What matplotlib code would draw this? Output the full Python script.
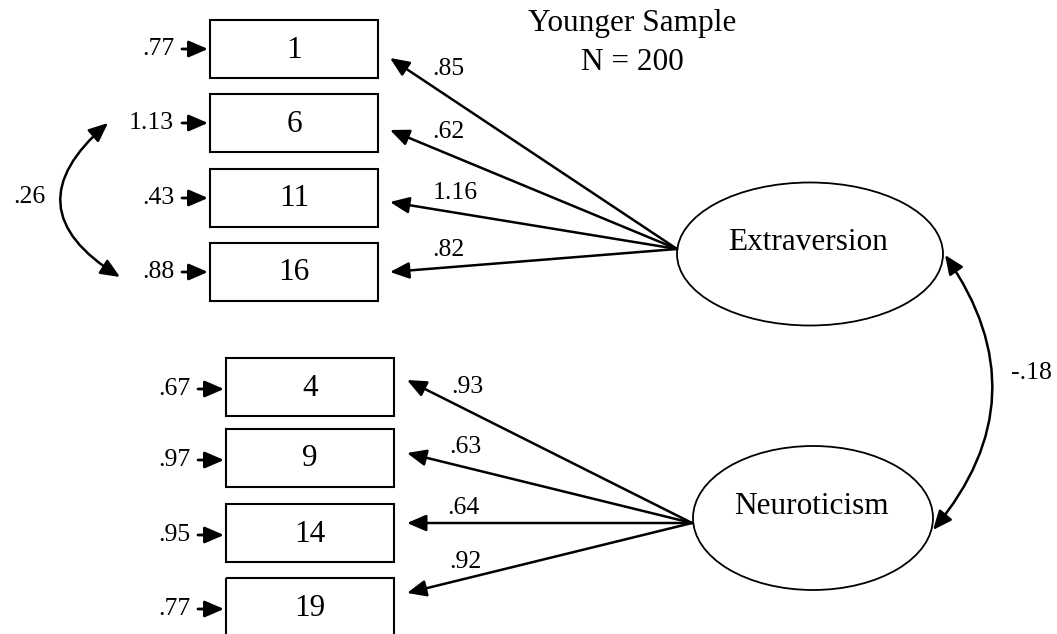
import matplotlib
matplotlib.use('Agg')
import matplotlib.pyplot as plt
from matplotlib.patches import Rectangle, Ellipse, FancyArrowPatch

plt.rcParams['font.family'] = ['Liberation Serif', 'DejaVu Serif']

# ── Wartości modelu ──────────────────────────────────────────────────────────
TITLE = "Younger Sample"
SAMPLE_N = "N = 200"

FACTORS = ["Extraversion", "Neuroticism"]
FACTOR_CORR = "-.18"

EXTRA_ITEMS = ["1", "6", "11", "16"]
EXTRA_RESID = [".77", "1.13", ".43", ".88"]
EXTRA_LOAD = [".85", ".62", "1.16", ".82"]

NEURO_ITEMS = ["4", "9", "14", "19"]
NEURO_RESID = [".67", ".97", ".95", ".77"]
NEURO_LOAD = [".93", ".63", ".64", ".92"]

RESID_CORR = ".26"   # między resztami 6 i 16

# ── Układ (piksele, oś y w dół) ──────────────────────────────────────────────
EXTRA_BOX_X, EXTRA_BOX_W = 210, 168
EXTRA_BOX_Y = [20, 94, 169, 243]
NEURO_BOX_X, NEURO_BOX_W = 226, 168
NEURO_BOX_Y = [358, 429, 504, 578]
BOX_H = 58

EXTRA_ELL = (810, 254, 266, 143)
NEURO_ELL = (813, 518, 240, 144)
EXTRA_ORIGIN = (677, 249)
NEURO_ORIGIN = (692, 523)

EXTRA_TIPS_Y = [58, 130, 202, 272]
NEURO_TIPS_Y = [380, 453, 523, 593]
EXTRA_TIP_X = 390
NEURO_TIP_X = 407

EXTRA_LOAD_POS = [(448, 69), (448, 132), (455, 193), (448, 250)]
NEURO_LOAD_POS = [(467, 387), (465, 447), (463, 508), (465, 562)]

SMALL = 18.5
BIG = 22.5

HEAD = '-|>,head_length=0.58,head_width=0.25'
HEAD2 = '<|-|>,head_length=0.58,head_width=0.25'


def arrow(ax, start, end, style=HEAD, lw=1.8, conn='arc3,rad=0'):
    ax.add_patch(FancyArrowPatch(start, end, arrowstyle=style,
                                 connectionstyle=conn, mutation_scale=20,
                                 lw=lw, color='black', shrinkA=0, shrinkB=0,
                                 zorder=3))


fig = plt.figure(figsize=(10.57, 6.34), dpi=100)
ax = fig.add_axes([0, 0, 1, 1])
ax.set_xlim(0, 1057)
ax.set_ylim(634, 0)
ax.axis('off')

# tytuł
ax.text(632, 24, TITLE, fontsize=BIG, ha='center', va='center')
ax.text(632, 63, SAMPLE_N, fontsize=BIG, ha='center', va='center')

# ── wskaźniki ──
groups = [
    (EXTRA_ITEMS, EXTRA_RESID, EXTRA_LOAD, EXTRA_BOX_X, EXTRA_BOX_W, EXTRA_BOX_Y,
     EXTRA_ORIGIN, EXTRA_TIP_X, EXTRA_TIPS_Y, EXTRA_LOAD_POS, 0),
    (NEURO_ITEMS, NEURO_RESID, NEURO_LOAD, NEURO_BOX_X, NEURO_BOX_W, NEURO_BOX_Y,
     NEURO_ORIGIN, NEURO_TIP_X, NEURO_TIPS_Y, NEURO_LOAD_POS, 2),
]
for items, resid, load, bx, bw, bys, origin, tipx, tipys, lpos, off in groups:
    for item, r, l, by, ty, lp in zip(items, resid, load, bys, tipys, lpos):
        ax.add_patch(Rectangle((bx, by), bw, BOX_H, fill=False, lw=1.5,
                               edgecolor='black'))
        cy = by + BOX_H / 2
        ax.text(bx + bw / 2, cy + 1, item, fontsize=BIG, ha='center', va='center')
        # reszta
        arrow(ax, (bx - 28, cy + off), (bx - 2, cy + off), lw=2.0)
        ax.text(bx - 36, cy + off, r, fontsize=SMALL, ha='right', va='center')
        # ładunek
        arrow(ax, origin, (tipx, ty))
        ax.text(lp[0], lp[1], l, fontsize=SMALL, ha='center', va='center')

# ── czynniki ──
for name, (ex, ey, ew, eh) in zip(FACTORS, [EXTRA_ELL, NEURO_ELL]):
    ax.add_patch(Ellipse((ex, ey), ew, eh, fill=False, lw=1.3, edgecolor='black'))
    ax.text(ex - 2, ey - 12, name, fontsize=BIG, ha='center', va='center')

# korelacja reszt 6 i 16
arrow(ax, (108, 123), (120, 277), style=HEAD2, lw=1.8, conn='arc3,rad=0.68')
ax.text(29, 197, RESID_CORR, fontsize=SMALL, ha='center', va='center')

# korelacja czynników
arrow(ax, (945, 255), (933, 530), style=HEAD2, lw=1.8, conn='arc3,rad=-0.38')
ax.text(1031, 373, FACTOR_CORR, fontsize=SMALL, ha='center', va='center')

fig.savefig('out.png', dpi=100, facecolor='white')
